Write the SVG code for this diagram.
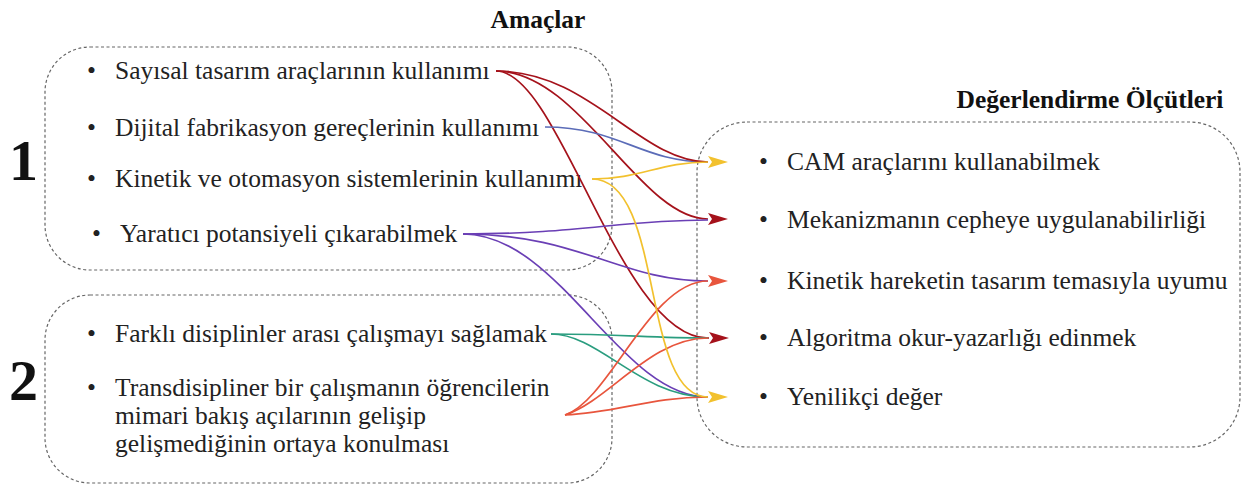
<svg xmlns="http://www.w3.org/2000/svg" width="1242" height="487" viewBox="0 0 1242 487">
<style>
.box{fill:none;stroke:#666;stroke-width:1.2;stroke-dasharray:3 2.5}
.t{font-family:"Liberation Serif","Times New Roman",serif;font-size:25.5px;fill:#222}
.h{font-family:"Liberation Serif","Times New Roman",serif;font-size:25.5px;font-weight:bold;fill:#111}
.n{font-family:"Liberation Serif","Times New Roman",serif;font-size:58px;font-weight:bold;fill:#111}
.c{fill:none;stroke-width:1.7}
</style>
<defs>
<marker id="aR" markerWidth="20" markerHeight="12" refX="0" refY="6" orient="auto" markerUnits="userSpaceOnUse"><path d="M0,0 L20,6 L0,12 L4,6 Z" fill="#a5121b"/></marker>
<marker id="aY" markerWidth="20" markerHeight="12" refX="0" refY="6" orient="auto" markerUnits="userSpaceOnUse"><path d="M0,0 L20,6 L0,12 L4,6 Z" fill="#f2c12e"/></marker>
<marker id="aO" markerWidth="20" markerHeight="12" refX="0" refY="6" orient="auto" markerUnits="userSpaceOnUse"><path d="M0,0 L20,6 L0,12 L4,6 Z" fill="#e8553d"/></marker>
</defs>

<g id="title-amaclar"><text class="h" x="538" y="28" text-anchor="middle">Amaçlar</text></g>
<g id="title-degerlendirme"><text class="h" x="1090" y="108" text-anchor="middle">Değerlendirme Ölçütleri</text></g>

<g id="group1">
<rect class="box" x="45" y="47" width="567" height="223" rx="45"/>
<text class="n" x="9" y="180">1</text>
</g>
<g id="group2">
<rect class="box" x="45" y="295" width="567" height="188" rx="45"/>
<text class="n" x="9" y="400">2</text>
</g>
<g id="criteria-box"><rect class="box" x="697" y="122" width="543" height="325" rx="50"/></g>

<g id="s1"><text class="t" x="87" y="79">•</text><text class="t" x="115" y="79">Sayısal tasarım araçlarının kullanımı</text></g>
<g id="s2"><text class="t" x="87" y="136">•</text><text class="t" x="115" y="136">Dijital fabrikasyon gereçlerinin kullanımı</text></g>
<g id="s3"><text class="t" x="87" y="187">•</text><text class="t" x="115" y="187">Kinetik ve otomasyon sistemlerinin kullanımı</text></g>
<g id="s4"><text class="t" x="92" y="242">•</text><text class="t" x="120" y="242">Yaratıcı potansiyeli çıkarabilmek</text></g>
<g id="s5"><text class="t" x="87" y="342">•</text><text class="t" x="115" y="342">Farklı disiplinler arası çalışmayı sağlamak</text></g>
<g id="s6"><text class="t" x="87" y="396">•</text><text class="t" x="115" y="396">Transdisipliner bir çalışmanın öğrencilerin</text><text class="t" x="115" y="424">mimari bakış açılarının gelişip</text><text class="t" x="115" y="452">gelişmediğinin ortaya konulması</text></g>

<g id="t1"><text class="t" x="759" y="170">•</text><text class="t" x="787" y="170">CAM araçlarını kullanabilmek</text></g>
<g id="t2"><text class="t" x="759" y="228">•</text><text class="t" x="787" y="228">Mekanizmanın cepheye uygulanabilirliği</text></g>
<g id="t3"><text class="t" x="759" y="289">•</text><text class="t" x="787" y="289">Kinetik hareketin tasarım temasıyla uyumu</text></g>
<g id="t4"><text class="t" x="759" y="346">•</text><text class="t" x="787" y="346">Algoritma okur-yazarlığı edinmek</text></g>
<g id="t5"><text class="t" x="759" y="405">•</text><text class="t" x="787" y="405">Yenilikçi değer</text></g>

<g id="connectors">
<path class="c" stroke="#a5121b" d="M496,71 C580,71 640,219 708,219" marker-end="url(#aR)"/>
<path class="c" stroke="#a5121b" d="M496,71 C560,71 620,338 708,338"/>
<path class="c" stroke="#5b6cb8" d="M545,127 C620,127 640,162 708,162"/>
<path class="c" stroke="#a5121b" d="M496,71 C590,71 640,162 708,162"/>
<path class="c" stroke="#6a3fb5" d="M463,234 C580,234 620,220 708,220"/>
<path class="c" stroke="#6a3fb5" d="M463,234 C580,234 620,281 708,281"/>
<path class="c" stroke="#6a3fb5" d="M463,234 C560,234 620,397 708,397"/>
<path class="c" stroke="#2a9d7f" d="M551,334 C620,334 650,338 708,338"/>
<path class="c" stroke="#2a9d7f" d="M551,334 C600,334 640,397 708,397"/>
<path class="c" stroke="#e8553d" d="M565,415 C610,400 650,281 708,281" marker-end="url(#aO)"/>
<path class="c" stroke="#e8553d" d="M565,415 C610,400 650,338 708,338"/>
<path class="c" stroke="#e8553d" d="M565,415 C620,412 650,397 708,397"/>
<path class="c" stroke="#f2c12e" d="M592,179 C665,179 640,397 708,397" marker-end="url(#aY)"/>
<path class="c" stroke="#f2c12e" d="M592,179 C640,179 660,162 708,162" marker-end="url(#aY)"/>
<path class="c" stroke="#a5121b" d="M708,338 L709,338" marker-end="url(#aR)"/>
</g>
</svg>
